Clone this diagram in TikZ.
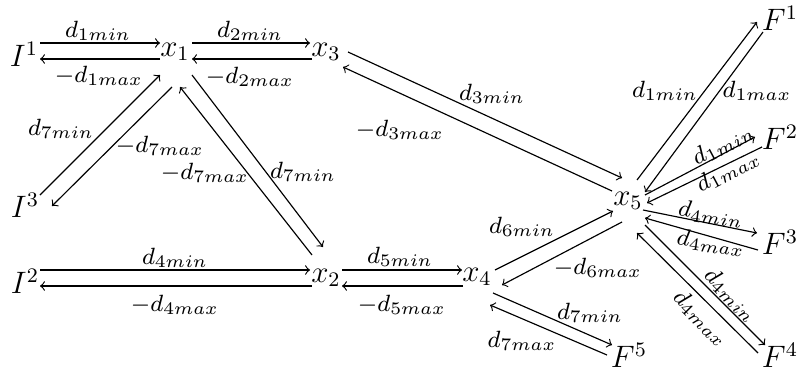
\documentclass[tikz,border=0pt]{standalone}
\usepackage{graphicx}
\newcommand\mylab[1]{\scalebox{1.14}{$#1$}}
\begin{document}
\begin{tikzpicture}[x=0.3875pt,y=-0.3875pt,>=to,
  nd/.style={inner sep=0pt,font=\large},
  lb/.style={inner sep=0pt,font=\footnotesize},
  arr/.style={->,line width=0.45pt}]
\useasboundingbox (0,0) rectangle (797,372);
% main nodes
\node[nd] (I1) at (24,54) {$I^1$};
\node[nd] (x1) at (175,52) {$x_1$};
\node[nd] (x3) at (326,52) {$x_3$};
\node[nd] (I3) at (25,205) {$I^3$};
\node[nd] (I2) at (25,281) {$I^2$};
\node[nd] (x2) at (326,278) {$x_2$};
\node[nd] (x4) at (477,277) {$x_4$};
\node[nd] (x5) at (628,201) {$x_5$};
\node[nd] (F1) at (780,18) {$F^1$};
\node[nd] (F2) at (780,137) {$F^2$};
\node[nd] (F3) at (780,242) {$F^3$};
\node[nd] (F4) at (780,355) {$F^4$};
\node[nd] (F5) at (629,355) {$F^5$};
% labels
\node[lb] (l1) at (98,31) {\mylab{d_{1min}}};
\node[lb] (l2) at (99,76) {\mylab{-d_{1max}}};
\node[lb] (l3) at (250,31) {\mylab{d_{2min}}};
\node[lb] (l4) at (250,77) {\mylab{-d_{2max}}};
\node[lb] (l5) at (492,94) {\mylab{d_{3min}}};
\node[lb] (l6) at (400,130) {\mylab{-d_{3max}}};
\node[lb] (l7) at (61,129) {\mylab{d_{7min}}};
\node[lb] (l8) at (160,146) {\mylab{-d_{7max}}};
\node[lb] (l9) at (205,173) {\mylab{-d_{7max}}};
\node[lb] (l10) at (303,172) {\mylab{d_{7min}}};
\node[lb] (l11) at (175,258) {\mylab{d_{4min}}};
\node[lb] (l12) at (175,305) {\mylab{-d_{4max}}};
\node[lb] (l13) at (400,257) {\mylab{d_{5min}}};
\node[lb] (l14) at (402,305) {\mylab{-d_{5max}}};
\node[lb] (l15) at (522,227) {\mylab{d_{6min}}};
\node[lb] (l16) at (598,268) {\mylab{-d_{6max}}};
\node[lb] (l17) at (590,313) {\mylab{d_{7min}}};
\node[lb] (l18) at (522,341) {\mylab{d_{7max}}};
\node[lb,rotate=-8] (l19) at (711,214) {\mylab{d_{4min}}};
\node[lb,rotate=-8] (l20) at (711,243) {\mylab{d_{4max}}};
\node[lb,rotate=-45] (l21) at (731,295) {\mylab{d_{4min}}};
\node[lb,rotate=-45] (l22) at (701,318) {\mylab{d_{4max}}};
\node[lb] (l23) at (665,91) {\mylab{d_{1min}}};
\node[lb] (l24) at (757,91) {\mylab{d_{1max}}};
\node[lb,rotate=28] (l25) at (723,144) {\mylab{d_{1min}}};
\node[lb,rotate=28] (l26) at (728,171) {\mylab{d_{1max}}};
% connectors
\draw[arr] ([shift={(16,-11)}]I1.center) -- ([shift={(-15,-9)}]x1.center);
\draw[arr] ([shift={(-15,7)}]x1.center) -- ([shift={(16,5)}]I1.center);
\draw[arr] ([shift={(17,-9)}]x1.center) -- ([shift={(-16,-9)}]x3.center);
\draw[arr] ([shift={(-14,7)}]x3.center) -- ([shift={(17,7)}]x1.center);
\draw[arr] ([shift={(22,0)}]x3.center) -- ([shift={(-6,-23)}]x5.center);
\draw[arr] ([shift={(-16,-10)}]x5.center) -- ([shift={(17,15)}]x3.center);
\draw[arr] ([shift={(15,-10)}]I3.center) -- ([shift={(-15,23)}]x1.center);
\draw[arr] ([shift={(-3,35)}]x1.center) -- ([shift={(27,1)}]I3.center);
\draw[arr] ([shift={(-14,-23)}]x2.center) -- ([shift={(5,35)}]x1.center);
\draw[arr] ([shift={(17,23)}]x1.center) -- ([shift={(-3,-31)}]x2.center);
\draw[arr] ([shift={(15,-11)}]I2.center) -- ([shift={(-16,-8)}]x2.center);
\draw[arr] ([shift={(-14,8)}]x2.center) -- ([shift={(15,5)}]I2.center);
\draw[arr] ([shift={(16,-8)}]x2.center) -- ([shift={(-15,-7)}]x4.center);
\draw[arr] ([shift={(-14,9)}]x4.center) -- ([shift={(16,8)}]x2.center);
\draw[arr] ([shift={(18,-7)}]x4.center) -- ([shift={(-15,10)}]x5.center);
\draw[arr] ([shift={(-6,21)}]x5.center) -- ([shift={(25,8)}]x4.center);
\draw[arr] ([shift={(16,16)}]x4.center) -- ([shift={(-17,-10)}]F5.center);
\draw[arr] ([shift={(-22,0)}]F5.center) -- ([shift={(13,28)}]x4.center);
\draw[arr] ([shift={(15,9)}]x5.center) -- ([shift={(-23,-9)}]F3.center);
\draw[arr] ([shift={(-22,8)}]F3.center) -- ([shift={(17,17)}]x5.center);
\draw[arr] ([shift={(17,24)}]x5.center) -- ([shift={(-15,-10)}]F4.center);
\draw[arr] ([shift={(-22,-2)}]F4.center) -- ([shift={(9,32)}]x5.center);
\draw[arr] ([shift={(9,-21)}]x5.center) -- ([shift={(-23,4)}]F1.center);
\draw[arr] ([shift={(-17,14)}]F1.center) -- ([shift={(17,-9)}]x5.center);
\draw[arr] ([shift={(17,-6)}]x5.center) -- ([shift={(-25,0)}]F2.center);
\draw[arr] ([shift={(-18,10)}]F2.center) -- ([shift={(19,2)}]x5.center);
\end{tikzpicture}
\end{document}
